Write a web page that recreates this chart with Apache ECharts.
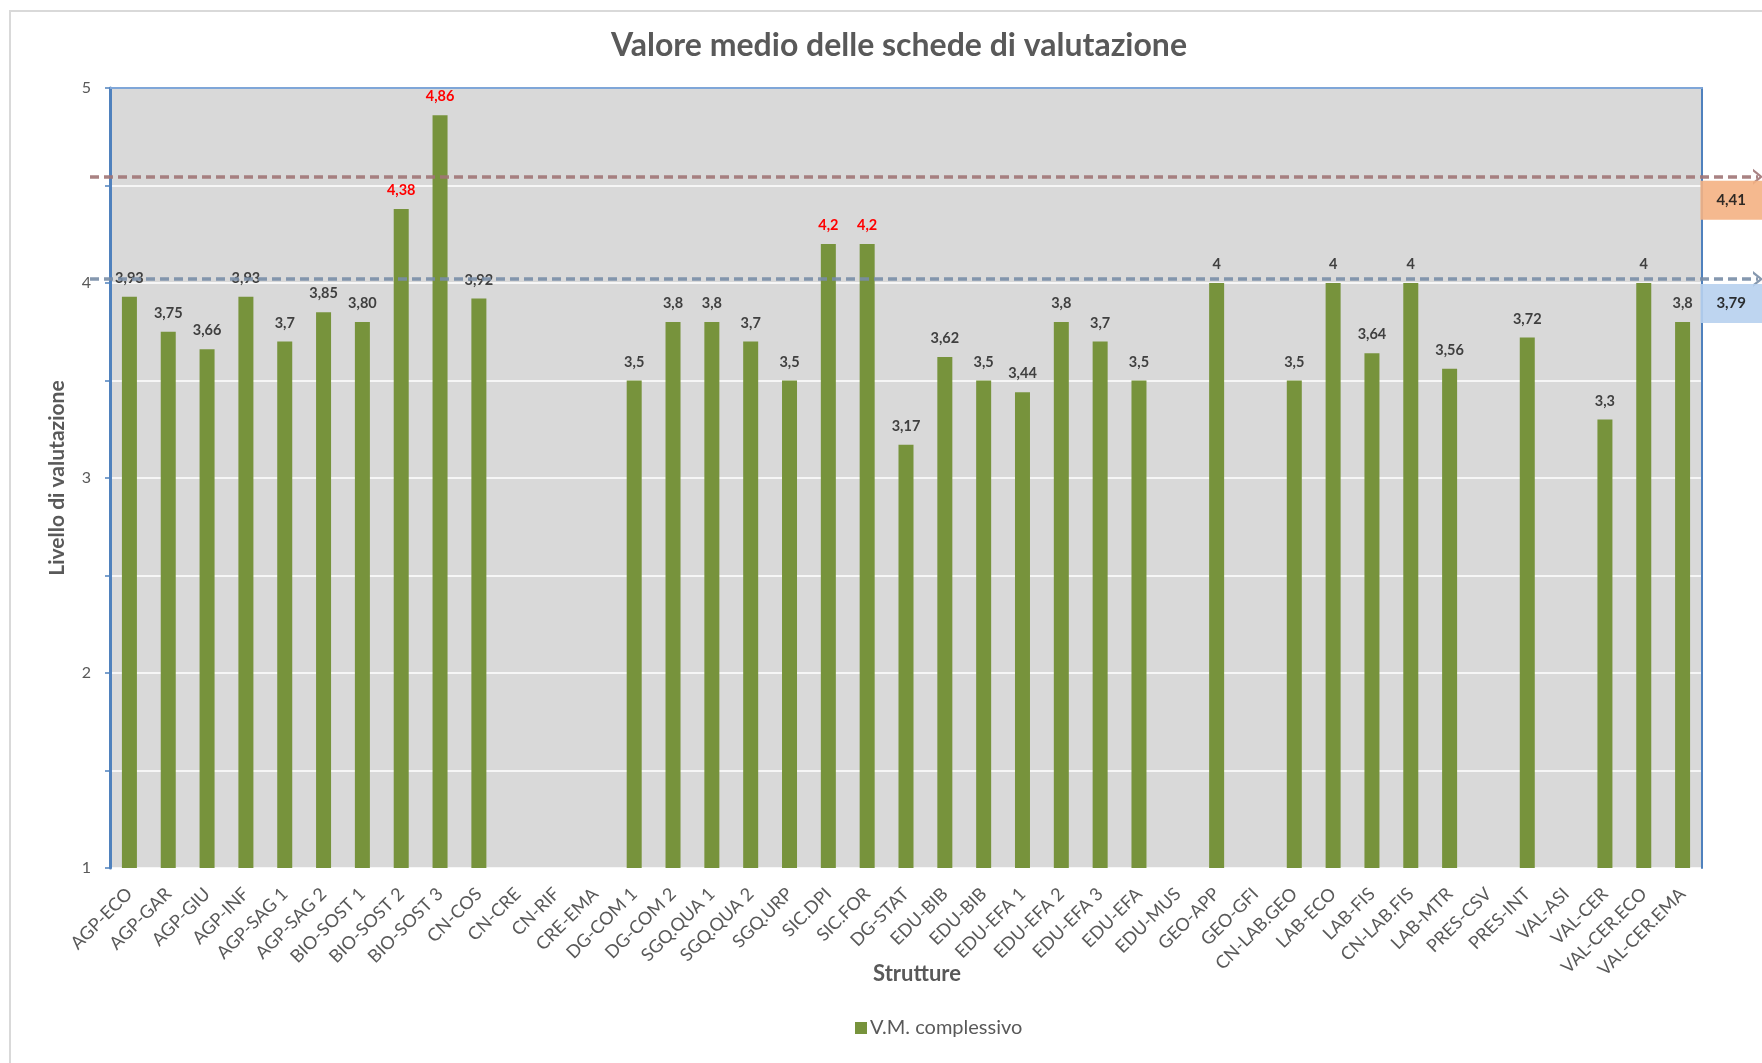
<!DOCTYPE html>
<html>
<head>
<meta charset="utf-8">
<title>Valore medio delle schede di valutazione</title>
<script src="https://cdn.jsdelivr.net/npm/echarts@6/dist/echarts.min.js"></script>
<style>
  html, body { margin: 0; padding: 0; background: #fff; }
  #chart { width: 1762px; height: 1063px; }
</style>
</head>
<body>
<div id="chart"></div>
<script>
// strutture valutate
const categories = [
  'AGP-ECO', 'AGP-GAR', 'AGP-GIU', 'AGP-INF', 'AGP-SAG 1', 'AGP-SAG 2',
  'BIO-SOST 1', 'BIO-SOST 2', 'BIO-SOST 3', 'CN-COS', 'CN-CRE', 'CN-RIF',
  'CRE-EMA', 'DG-COM 1', 'DG-COM 2', 'SGQ.QUA 1', 'SGQ.QUA 2', 'SGQ.URP',
  'SIC.DPI', 'SIC.FOR', 'DG-STAT', 'EDU-BIB', 'EDU-BIB', 'EDU-EFA 1',
  'EDU-EFA 2', 'EDU-EFA 3', 'EDU-EFA', 'EDU-MUS', 'GEO-APP', 'GEO-GFI',
  'CN-LAB.GEO', 'LAB-ECO', 'LAB-FIS', 'CN-LAB.FIS', 'LAB-MTR', 'PRES-CSV',
  'PRES-INT', 'VAL-ASI', 'VAL-CER', 'VAL-CER.ECO', 'VAL-CER.EMA'
]

// V.M. complessivo (null = nessuna scheda)
const values = [
  3.93, 3.75, 3.66, 3.93, 3.7, 3.85,
  3.80, 4.38, 4.86, 3.92, null, null,
  null, 3.5, 3.8, 3.8, 3.7, 3.5,
  4.2, 4.2, 3.17, 3.62, 3.5, 3.44,
  3.8, 3.7, 3.5, null, 4, null,
  3.5, 4, 3.64, 4, 3.56, null,
  3.72, null, 3.3, 4, 3.8
]

// etichette come nel foglio excel
const labelText = [
  '3,93', '3,75', '3,66', '3,93', '3,7', '3,85',
  '3,80', '4,38', '4,86', '3,92', '', '',
  '', '3,5', '3,8', '3,8', '3,7', '3,5',
  '4,2', '4,2', '3,17', '3,62', '3,5', '3,44',
  '3,8', '3,7', '3,5', '', '4', '',
  '3,5', '4', '3,64', '4', '3,56', '',
  '3,72', '', '3,3', '4', '3,8'
]

// linee di riferimento (posizione disegnata, testo del riquadro)
const refLevels = [4.545, 4.02]
const refLabels = ['4,41', '3,79']
const refColors = ['#A07476', '#788DA6']
const refBoxColors = ['#F4B183', '#B7D0EE']

const chevron = 'path://M0,10L10,0L20,10L16.5,10L10,3.5L3.5,10Z'

const chart = echarts.init(document.getElementById('chart'))

chart.setOption({
  animation: false,
  textStyle: { fontFamily: 'Lato' },
  title: {
    text: 'Valore medio delle schede di valutazione',
    left: 894,
    top: 25,
    textAlign: 'center',
    textStyle: { fontSize: 32, fontWeight: 'bold', color: '#595959', fontFamily: 'Lato' }
  },
  legend: {
    data: ['V.M. complessivo'],
    left: 850,
    top: 1013,
    icon: 'rect',
    itemWidth: 12,
    itemHeight: 12,
    itemGap: 4,
    textStyle: { fontSize: 20, color: '#595959', padding: [0, 0, 0, -2] }
  },
  graphic: [{
    type: 'rect',
    silent: true,
    z: -10,
    shape: { x: 10, y: 11, width: 1800, height: 1100 },
    style: { fill: 'none', stroke: '#D9D9D9', lineWidth: 2 }
  }],
  grid: [{
    left: 110,
    right: 60,
    top: 88,
    bottom: 195,
    show: true,
    backgroundColor: '#D9D9D9',
    borderWidth: 0,
    outerBoundsMode: 'none'
  }, {
    left: 90,
    right: 4,
    top: 88,
    bottom: 195,
    outerBoundsMode: 'none'
  }],
  xAxis: [{
    type: 'category',
    data: categories,
    name: 'Strutture',
    nameLocation: 'middle',
    nameGap: 95,
    nameMoveOverlap: false,
    nameTextStyle: { fontSize: 22, fontWeight: 'bold', color: '#595959', padding: [0, 0, 0, 22] },
    axisLine: { show: false },
    axisTick: { show: false },
    axisLabel: { interval: 0, rotate: 45, fontSize: 18, color: '#595959', margin: 23 }
  }, {
    // bordo superiore
    type: 'value',
    position: 'top',
    min: 0,
    max: 1,
    axisLine: { show: true, lineStyle: { color: '#7FA6D8', width: 2 } },
    axisTick: { show: false },
    axisLabel: { show: false },
    splitLine: { show: false }
  }, {
    type: 'value',
    gridIndex: 1,
    min: 0,
    max: 1,
    show: false
  }],
  yAxis: [{
    type: 'value',
    min: 1,
    max: 5,
    interval: 0.5,
    name: 'Livello di valutazione',
    nameLocation: 'middle',
    nameGap: 42,
    nameMoveOverlap: false,
    nameTextStyle: { fontSize: 21, fontWeight: 'bold', color: '#595959' },
    axisLine: { show: true, lineStyle: { color: '#4F81BD', width: 3 } },
    axisTick: { show: true, length: 5, lineStyle: { color: '#4F81BD', width: 1.5 } },
    axisLabel: {
      fontSize: 16,
      color: '#595959',
      margin: 19,
      formatter: v => (Number.isInteger(v) ? String(v) : '')
    },
    splitLine: { show: true, lineStyle: { color: '#FFFFFF', width: 1.5 } }
  }, {
    // bordo destro
    type: 'value',
    position: 'right',
    min: 1,
    max: 5,
    axisLine: { show: true, lineStyle: { color: '#4F81BD', width: 2 } },
    axisTick: { show: false },
    axisLabel: { show: false },
    splitLine: { show: false }
  }, {
    type: 'value',
    gridIndex: 1,
    min: 1,
    max: 5,
    show: false
  }],
  series: [{
    name: 'V.M. complessivo',
    type: 'bar',
    xAxisIndex: 0,
    yAxisIndex: 0,
    barWidth: 15,
    itemStyle: { color: '#77933C' },
    label: {
      show: true,
      position: 'top',
      distance: 11,
      fontSize: 14.5,
      fontWeight: 'bold',
      formatter: p => labelText[p.dataIndex]
    },
    data: values.map(v => ({
      value: v,
      label: { color: v > 4 ? '#FF0000' : '#404040' }
    }))
  }, {
    name: 'riferimenti',
    type: 'line',
    xAxisIndex: 2,
    yAxisIndex: 2,
    data: [],
    markLine: {
      silent: true,
      animation: false,
      symbol: ['none', chevron],
      symbolSize: [16, 10],
      data: refLevels.map((lv, i) => [{
        coord: [0, lv],
        lineStyle: { color: refColors[i], type: [9, 5], width: 3.5, opacity: 0.9 },
        label: {
          show: true,
          position: 'insideEndBottom',
          distance: [-4, i === 0 ? 4 : 5],
          formatter: refLabels[i],
          backgroundColor: refBoxColors[i],
          padding: [12, 16],
          lineHeight: 15,
          fontSize: 15,
          fontWeight: 'bold',
          color: '#1A1A1A'
        }
      }, {
        coord: [1, lv]
      }])
    }
  }]
})
</script>
</body>
</html>
